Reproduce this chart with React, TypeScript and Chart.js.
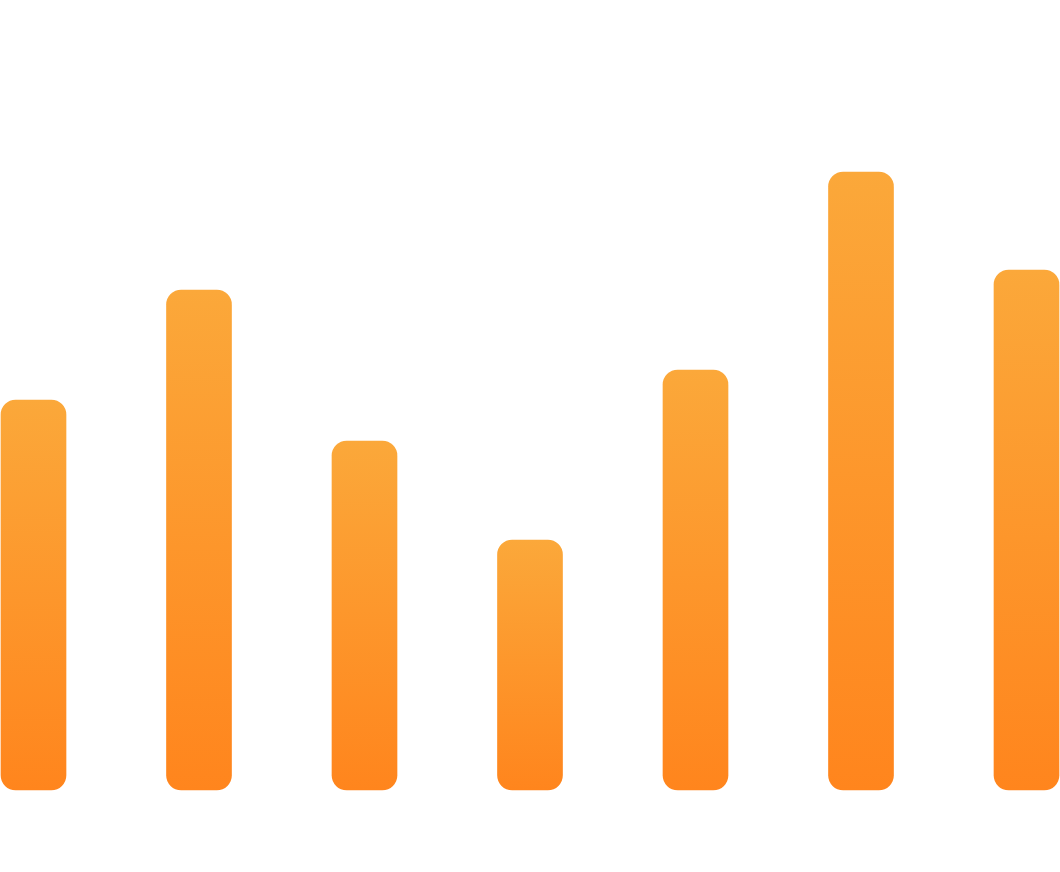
import React, { useEffect, useRef } from "react";
import { Chart, registerables } from "chart.js";

Chart.register(...registerables);

const categories = ["A", "B", "C", "D", "E", "F", "G"];
const values = [39, 50, 34.9, 25, 42, 61.8, 52];
const yMax = 79;
const topColor = "#FBA83A";
const bottomColor = "#FF851D";

export default function App() {
  const ref = useRef<HTMLCanvasElement | null>(null);

  useEffect(() => {
    document.body.style.margin = "0";
    const canvas = ref.current;
    if (!canvas) return;
    const chart = new Chart(canvas, {
      type: "bar",
      data: {
        labels: categories,
        datasets: [
          {
            data: values,
            clip: false,
            barThickness: 65,
            borderRadius: 15,
            borderSkipped: false,
            backgroundColor: (ctx: any) => {
              const c = ctx.chart;
              if (!c.chartArea || !c.scales || !c.scales.y || typeof ctx.raw !== "number") return topColor;
              const y = c.scales.y;
              const top = y.getPixelForValue(ctx.raw);
              const bottom = y.getPixelForValue(0);
              if (!isFinite(top) || !isFinite(bottom) || top === bottom) return topColor;
              const g = c.ctx.createLinearGradient(0, top, 0, bottom);
              g.addColorStop(0, topColor);
              g.addColorStop(1, bottomColor);
              return g;
            },
          } as any,
        ],
      },
      options: {
        animation: false,
        responsive: true,
        maintainAspectRatio: false,
        layout: { padding: { left: 33.5, right: 33.5, top: 0, bottom: 82 } },
        plugins: { legend: { display: false }, tooltip: { enabled: false } },
        scales: {
          x: { display: false, offset: false },
          y: { display: false, min: 0, max: yMax },
        },
      },
    });
    return () => chart.destroy();
  }, []);

  return (
    <div style={{ position: "fixed", left: 0, top: 0, width: 1060, height: 872 }}>
      <canvas ref={ref} />
    </div>
  );
}
